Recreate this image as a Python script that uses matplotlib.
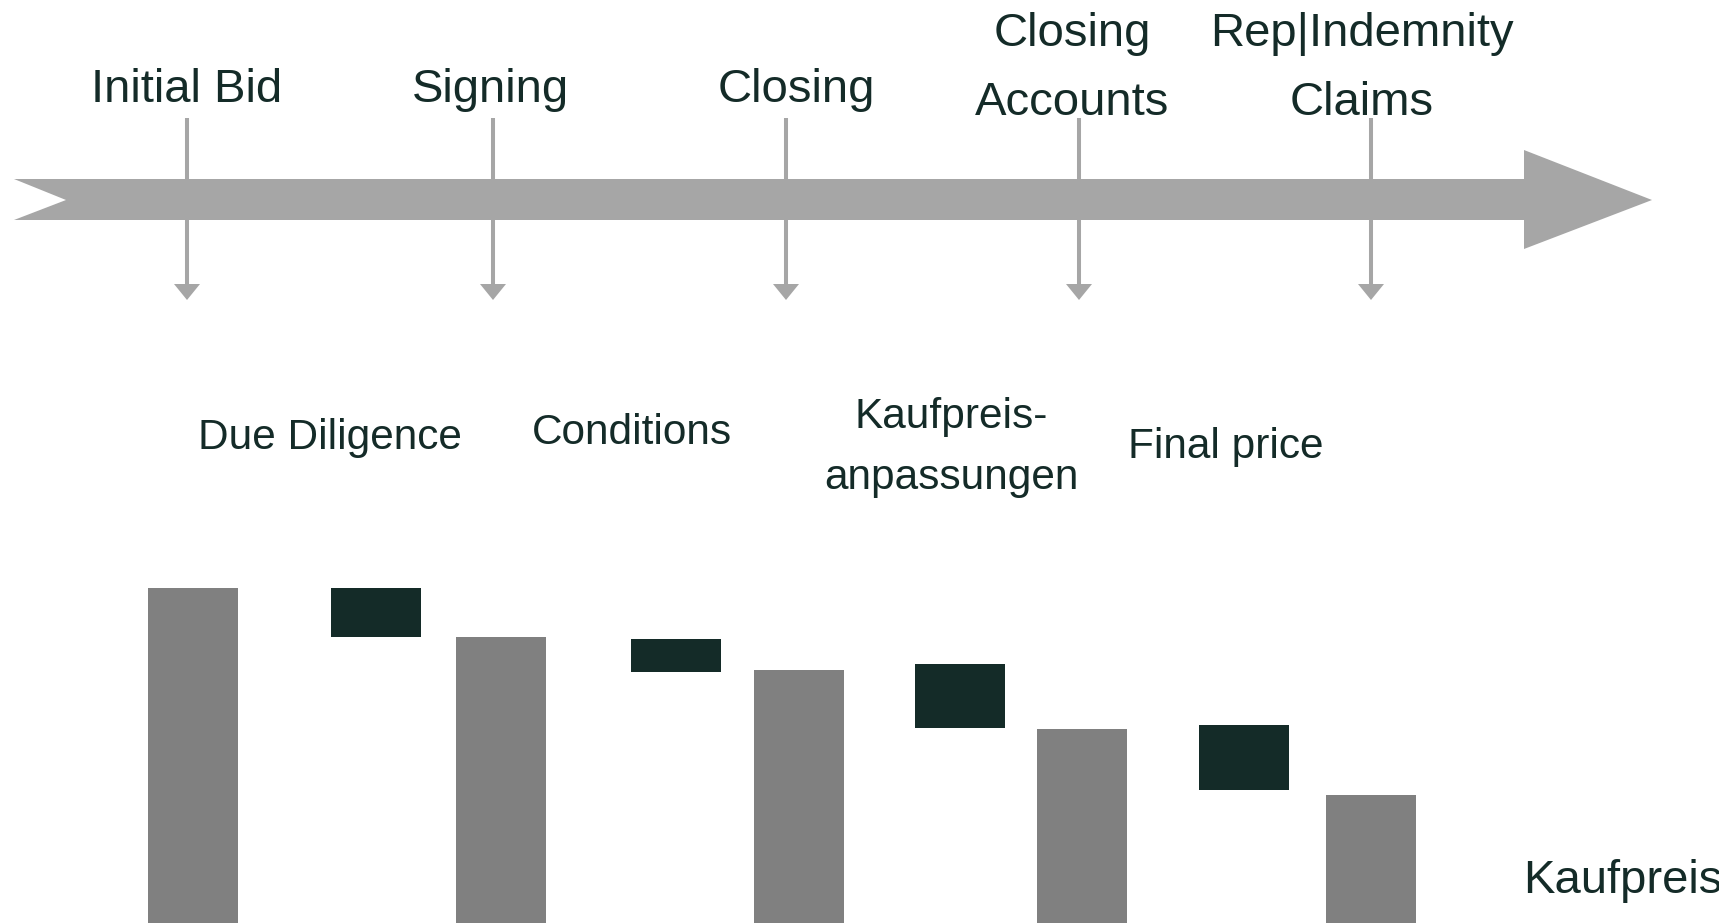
import matplotlib
matplotlib.use("Agg")
import matplotlib.pyplot as plt
from matplotlib.patches import Polygon

# ---------------- data ----------------
milestones = ["Initial Bid", "Signing", "Closing", "Closing\nAccounts", "Rep|Indemnity\nClaims"]
phases = ["Due Diligence", "Conditions", "Kaufpreis-\nanpassungen", "Final price"]
totals = [100.0, 85.4, 75.5, 57.9, 38.2]          # purchase price level at each milestone
delta_top = [100.0, 84.8, 77.3, 59.1]             # reductions between milestones (top)
delta_bottom = [85.4, 74.9, 58.2, 39.7]           # reductions between milestones (bottom)
end_label = "Kaufpreis"

# ---------------- layout / style ----------------
W, H = 1719, 923
TEXT = "#142B28"
DARK = "#142B28"
GREY_BAR = "#808080"
GREY_ARROW = "#A6A6A6"
FONT = "Liberation Sans"

plt.rcParams["font.family"] = [FONT, "DejaVu Sans"]

fig = plt.figure(figsize=(W / 100, H / 100), dpi=100)

# waterfall axes (value scale: 3.35 px per unit, 0 at figure bottom)
ax = fig.add_axes([0, 0, 1, 1])
ax.set_xlim(0, W)
ax.set_ylim(0, H / 3.35)
ax.axis("off")

total_x = [193, 501, 799, 1082, 1371]
delta_x = [376, 676, 960, 1244]
bar_w = 90
ax.bar(total_x, totals, width=bar_w, color=GREY_BAR, linewidth=0)
ax.bar(delta_x, [t - b for t, b in zip(delta_top, delta_bottom)],
       bottom=delta_bottom, width=bar_w, color=DARK, linewidth=0)

# overlay axes in pixel coordinates for the timeline diagram
ov = fig.add_axes([0, 0, 1, 1])
ov.set_xlim(0, W)
ov.set_ylim(H, 0)
ov.axis("off")
ov.patch.set_alpha(0)

# main timeline arrow
arrow_pts = [(14, 179), (1524, 179), (1524, 150), (1652, 200),
             (1524, 249), (1524, 220), (14, 220), (66, 200)]
ov.add_patch(Polygon(arrow_pts, closed=True, facecolor=GREY_ARROW, edgecolor="none"))

# milestone down-arrows
ms_x = [187, 493, 786, 1079, 1371]
for x in ms_x:
    ov.plot([x, x], [118, 286], color=GREY_ARROW, lw=2.9, solid_capstyle="butt")
    ov.add_patch(Polygon([(x - 13, 284), (x + 13, 284), (x, 300)], closed=True,
                         facecolor=GREY_ARROW, edgecolor="none"))

# milestone labels
ms_label_x = [187, 490, 796, 1072, 1362]
for lab, x in zip(milestones, ms_label_x):
    lines = lab.split("\n")
    ys = [102] if len(lines) == 1 else [46, 115]
    for ln, y in zip(lines, ys):
        ov.text(x, y, ln, ha="center", va="baseline", fontsize=34, color=TEXT)

# phase labels
ph_x = [330, 632, 951, 1226]
ph_y_single = [449, 444, None, 458]
for lab, x, ys in zip(phases, ph_x, ph_y_single):
    lines = lab.split("\n")
    yl = [ys] if len(lines) == 1 else [428, 489]
    for ln, y in zip(lines, yl):
        ov.text(x, y, ln, ha="center", va="baseline", fontsize=30.5, color=TEXT)

# end label (clipped at right edge like the original)
ov.text(1523, 893, end_label, ha="left", va="baseline", fontsize=34, color=TEXT)

fig.savefig("out.png", dpi=100)
